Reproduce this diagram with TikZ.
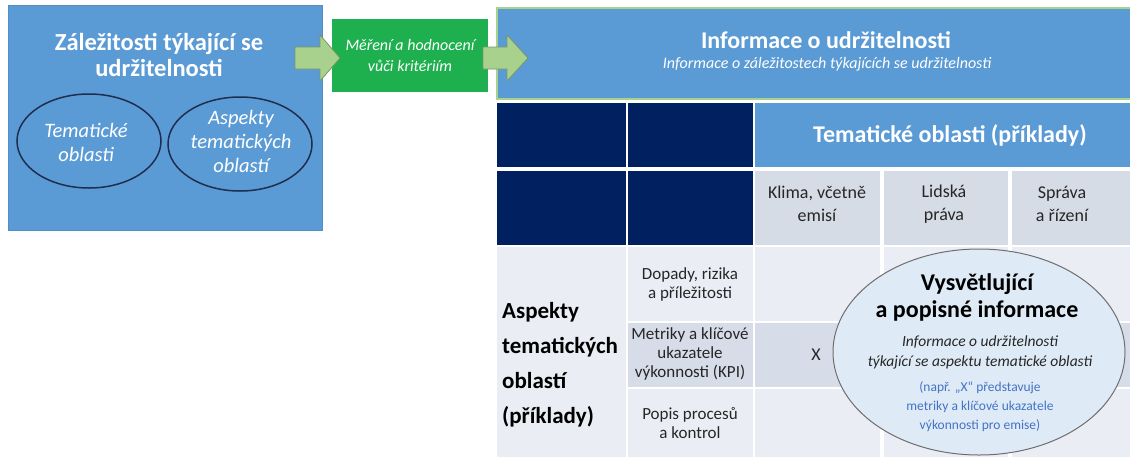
\documentclass[tikz,border=0pt]{standalone}
\usepackage{fontspec}
\setmainfont{Carlito}
\usetikzlibrary{shapes.geometric}

\definecolor{boxblue}{RGB}{91,155,213}
\definecolor{boxedge}{RGB}{80,142,200}
\definecolor{navy}{RGB}{0,32,96}
\definecolor{measuregreen}{RGB}{30,176,78}
\definecolor{arrowfill}{RGB}{169,209,142}
\definecolor{arrowline}{RGB}{120,150,100}
\definecolor{headcell}{RGB}{214,220,229}
\definecolor{bodycell}{RGB}{234,238,244}
\definecolor{bandcell}{RGB}{214,221,232}
\definecolor{ellfill}{RGB}{222,235,247}
\definecolor{explline}{RGB}{110,110,110}
\definecolor{noteblue}{RGB}{68,114,196}
\definecolor{ringnavy}{RGB}{31,45,80}
\definecolor{celltext}{RGB}{38,38,38}

\newcommand\fsTitle{\fontsize{24.5}{26}\selectfont\bfseries}
\newcommand\fsRing{\fontsize{20.5}{24}\selectfont\itshape}
\newcommand\fsMeasure{\fontsize{16}{21}\selectfont\itshape}
\newcommand\fsHead{\fontsize{24}{28}\selectfont\bfseries}
\newcommand\fsSub{\fontsize{16}{20}\selectfont\itshape}
\newcommand\fsExplIt{\fontsize{15.5}{20}\selectfont\itshape}
\newcommand\fsCol{\fontsize{18}{23}\selectfont}
\newcommand\fsCell{\fontsize{17}{19}\selectfont}
\newcommand\fsAspect{\fontsize{23}{35}\selectfont\bfseries}
\newcommand\fsExplain{\fontsize{24}{27}\selectfont\bfseries}
\newcommand\fsNote{\fontsize{13.5}{19}\selectfont}

\tikzset{
  lbl/.style={inner sep=0pt, align=center},
  ring/.style={ellipse, draw=ringnavy, line width=1.5pt, inner sep=0pt,
    minimum width=144pt, minimum height=94pt},
  explain/.style={ellipse, draw=explline, fill=ellfill, line width=1pt,
    inner sep=0pt, minimum width=292pt, minimum height=206pt},
  arrowbody/.style={fill=arrowfill, draw=arrowline, line width=0.8pt},
}

\begin{document}
\begin{tikzpicture}[x=1pt,y=-1pt]
  \useasboundingbox (0,0) rectangle (1130,459);
  \clip (0,0) rectangle (1130,459);

  % left box
  \fill[boxblue, draw=boxedge] (8,5) rectangle (322,230);
  \node[lbl, text=white, font=\fsTitle] (mattersT) at (159,55) {Záležitosti týkající se\\udržitelnosti};
  \node[ring] (themesE) at (89,141) {};
  \node[lbl, text=white, font=\fsRing] (themesT) at (86,142) {Tematické\\oblasti};
  \node[ring] (aspectsE) at (240,144) {};
  \node[lbl, text=white, font=\fsRing] (aspectsT) at (241,141) {Aspekty\\tematických\\oblastí};

  % green box
  \fill[measuregreen] (332,19) rectangle (488,92);
  \node[lbl, text=white, font=\fsMeasure] (measureT) at (410,55) {Měření a hodnocení\\vůči kritériím};

  % header
  \fill[boxblue, draw=arrowfill, line width=1.5pt] (497,8) rectangle (1160,99);
  \node[lbl, text=white, font=\fsHead] (infoT) at (826,40) {Informace o udržitelnosti};
  \node[lbl, text=white, font=\fsSub] (infoS) at (827,64) {Informace o záležitostech týkajících se udržitelnosti};

  % arrows
  \filldraw[arrowbody] (295,47) -- (320,47) -- (320,35) -- (340,58) -- (320,81) -- (320,69) -- (295,69) -- cycle;
  \filldraw[arrowbody] (483,47) -- (507,47) -- (507,35) -- (528,58) -- (507,81) -- (507,69) -- (483,69) -- cycle;

  % table, first two rows
  \fill[navy] (497,103) rectangle (626,167);
  \fill[navy] (628,103) rectangle (753,167);
  \fill[boxblue] (755,103) rectangle (1140,167);
  \node[lbl, text=white, font=\fsHead] (themesH) at (950,135) {Tematické oblasti (příklady)};

  \fill[navy] (497,171) rectangle (626,245);
  \fill[navy] (628,171) rectangle (753,245);
  \fill[headcell] (755,171) rectangle (880,245);
  \fill[headcell] (884,171) rectangle (1008,245);
  \fill[headcell] (1012,171) rectangle (1140,245);
  \node[lbl, text=celltext, font=\fsCol] (climate) at (817,204) {Klima, včetně\\emisí};
  \node[lbl, text=celltext, font=\fsCol] (rights) at (944,204) {Lidská\\práva};
  \node[lbl, text=celltext, font=\fsCol] (governance) at (1062,204) {Správa\\a řízení};

  % table, aspect rows
  \fill[bodycell] (497,247) rectangle (626,457);
  \fill[bodycell] (628,247) rectangle (753,321);
  \fill[bandcell] (628,323) rectangle (753,387);
  \fill[bodycell] (628,389) rectangle (753,457);
  \fill[bodycell] (755,247) rectangle (880,321);
  \fill[bandcell] (755,323) rectangle (880,387);
  \fill[bodycell] (755,389) rectangle (880,457);
  \fill[bodycell] (884,247) rectangle (1008,321);
  \fill[bandcell] (884,323) rectangle (1008,387);
  \fill[bodycell] (884,389) rectangle (1008,457);
  \fill[bodycell] (1012,247) rectangle (1140,321);
  \fill[bandcell] (1012,323) rectangle (1140,387);
  \fill[bodycell] (1012,389) rectangle (1140,457);

  \node[lbl, align=left, anchor=west, font=\fsAspect] (aspectsH) at (502,365) {Aspekty\\tematických\\oblastí\\(příklady)};
  \node[lbl, text=celltext, font=\fsCell] (impacts) at (690,284) {Dopady, rizika\\a příležitosti};
  \node[lbl, text=celltext, font=\fsCell] (metrics) at (690,354) {Metriky a klíčové\\ukazatele\\výkonnosti (KPI)};
  \node[lbl, text=celltext, font=\fsCell] (process) at (690,423) {Popis procesů\\a kontrol};
  \node[lbl, text=celltext, font=\fsCol] (mark) at (816,355) {X};

  % explanatory ellipse
  \node[explain] (expl) at (979,352) {};
  \node[lbl, font=\fsExplain] (explT) at (977,297) {Vysvětlující\\a popisné informace};
  \node[lbl, text=celltext, font=\fsExplIt] (explS) at (980,352) {Informace o udržitelnosti\\týkající se aspektu tematické oblasti};
  \node[lbl, text=noteblue, font=\fsNote] (explN) at (980,407) {(např. „X“ představuje\\metriky a klíčové ukazatele\\výkonnosti pro emise)};
\end{tikzpicture}
\end{document}
